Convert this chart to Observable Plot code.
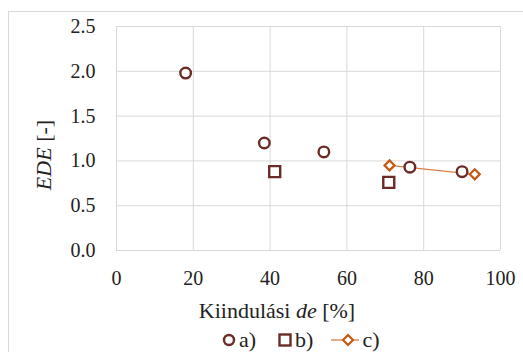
<!DOCTYPE html>
<html><head><meta charset="utf-8">
<script src="https://cdn.jsdelivr.net/npm/d3@7"></script>
<script src="https://cdn.jsdelivr.net/npm/@observablehq/plot@0.6"></script>
<style>
body{margin:0;width:523px;height:352px;overflow:hidden;background:#fff;position:relative;color:#222}
#chart{position:absolute;left:0;top:0}
#frame{position:absolute;left:8px;top:11px;width:600px;height:400px;border-left:1px solid #d9d9d9;border-top:1px solid #d9d9d9;pointer-events:none}
#legend{position:absolute;left:222px;top:328px;height:24px;display:flex;align-items:center;font-size:22px;white-space:nowrap}
#legend svg{display:block}
</style></head><body>
<div id="chart"></div><div id="legend" style="font-family:'Liberation Serif'"></div><div id="frame"></div>
<script>
const xTicks = [0, 20, 40, 60, 80, 100];
const yTicks = [0, 0.5, 1.0, 1.5, 2.0, 2.5];
const seriesNames = ["a)", "b)", "c)"];
const aX = [18, 38.5, 54, 76.4, 90];
const aY = [1.98, 1.20, 1.10, 0.93, 0.88];
const bX = [41.2, 70.9];
const bY = [0.88, 0.76];
const cX = [71.1, 93.3];
const cY = [0.95, 0.85];

const brown = "#6b2b26";
const orange = "#c55a11";
const lineOrange = "#d9804a";
const SERIF = "Liberation Serif";

const toRows = (xs, ys) => xs.map((x, i) => ({x, y: ys[i]}));
const A = toRows(aX, aY), B = toRows(bX, bY), C = toRows(cX, cY);

const diamond = {
  draw(ctx, size) {
    const h = Math.sqrt(size / Math.PI);
    ctx.moveTo(0, -h); ctx.lineTo(h, 0); ctx.lineTo(0, h); ctx.lineTo(-h, 0); ctx.closePath();
  }
};

const plot = Plot.plot({
  width: 523, height: 328,
  marginLeft: 116, marginRight: 23, marginTop: 26, marginBottom: 78,
  style: {fontSize: "20px", color: "#222", background: "transparent"},
  x: {domain: [0, 100]},
  y: {domain: [0, 2.5]},
  marks: [
    Plot.gridX(xTicks, {stroke: "#d9d9d9", strokeOpacity: 1}),
    Plot.gridY(yTicks, {stroke: "#d9d9d9", strokeOpacity: 1}),
    Plot.axisX({ticks: xTicks, tickSize: 0, tickPadding: 20, label: null, fontSize: 20}),
    Plot.axisY({ticks: yTicks, tickSize: 0, tickPadding: 21, tickFormat: d => d.toFixed(1), label: null, fontSize: 20}),
    Plot.line(C, {x: "x", y: "y", stroke: lineOrange, strokeWidth: 1.3}),
    Plot.dot(A, {x: "x", y: "y", r: 5.3, symbol: "circle", stroke: brown, strokeWidth: 2.4, fill: "white"}),
    Plot.dot(B, {x: "x", y: "y", r: 6.2, symbol: "square", stroke: brown, strokeWidth: 2.4, fill: "white"}),
    Plot.dot(C, {x: "x", y: "y", r: 5, symbol: diamond, stroke: orange, strokeWidth: 2.2, fill: "white"})
  ]
});
document.getElementById("chart").appendChild(plot);

const svg = d3.select(plot);
svg.attr("font-family", SERIF).style("font-family", SERIF);
const yt = svg.append("text")
  .attr("transform", "translate(43,155) rotate(-90)")
  .attr("text-anchor", "middle").attr("dy", "0.35em")
  .attr("font-size", 22).attr("fill", "#222");
yt.append("tspan").attr("font-style", "italic").text("EDE");
yt.append("tspan").text(" [-]");
const xt = svg.append("text")
  .attr("x", 277).attr("y", 318)
  .attr("text-anchor", "middle")
  .attr("font-size", 22).attr("fill", "#222");
xt.append("tspan").text("Kiindulási ");
xt.append("tspan").attr("font-style", "italic").text("de");
xt.append("tspan").text(" [%]");
plot.querySelectorAll("g, text, tspan").forEach(t => { t.setAttribute("font-family", SERIF); t.style.fontFamily = SERIF; });

// Legend (HTML, below the SVG)
const leg = d3.select("#legend");
const sym = [
  {name: seriesNames[0], w: 14, mr: 22, draw: s => s.append("circle").attr("cx", 7).attr("cy", 12).attr("r", 5).attr("fill", "white").attr("stroke", brown).attr("stroke-width", 2.4)},
  {name: seriesNames[1], w: 14, mr: 18, draw: s => s.append("rect").attr("x", 1.5).attr("y", 6.5).attr("width", 11).attr("height", 11).attr("fill", "white").attr("stroke", brown).attr("stroke-width", 2.4)},
  {name: seriesNames[2], w: 28, mr: 0, draw: s => {
    s.append("line").attr("x1", 0).attr("x2", 28).attr("y1", 12).attr("y2", 12).attr("stroke", lineOrange).attr("stroke-width", 1.3);
    s.append("path").attr("d", "M17,7L22,12L17,17L12,12Z").attr("fill", "white").attr("stroke", orange).attr("stroke-width", 2.2);
  }}
];
sym.forEach(d => {
  const s = leg.append("svg").attr("width", d.w).attr("height", 24).style("margin-right", "3px");
  d.draw(s);
  leg.append("span").text(d.name).style("margin-right", d.mr + "px").style("font-family", SERIF);
});
</script>
</body></html>
